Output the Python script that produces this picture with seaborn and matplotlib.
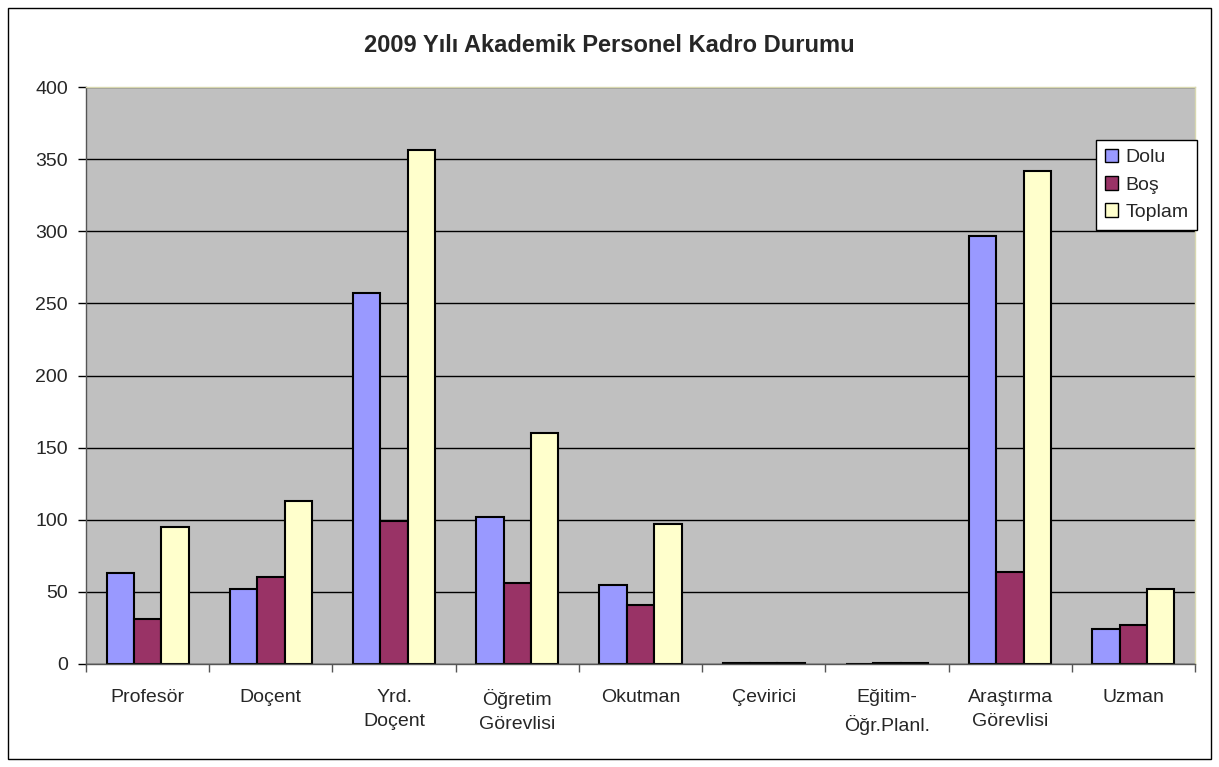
import matplotlib
matplotlib.use("Agg")
import matplotlib.pyplot as plt
import seaborn as sns
import pandas as pd
from matplotlib.patches import Patch, Rectangle

categories = ["Profesör", "Doçent", "Yrd.\nDoçent", "Öğretim\nGörevlisi", "Okutman",
              "Çevirici", "Eğitim-\nÖğr.Planl.", "Araştırma\nGörevlisi", "Uzman"]
dolu = [63, 52, 257, 102, 55, 1, 0, 297, 24]
bos = [31, 60, 99, 56, 41, 1, 1, 64, 27]
toplam = [95, 113, 356, 160, 97, 1, 1, 342, 52]
series = ["Dolu", "Boş", "Toplam"]
colors = ["#9999FF", "#993366", "#FFFFCC"]

rows = []
for i, c in enumerate(categories):
    for s, vals in zip(series, [dolu, bos, toplam]):
        rows.append({"cat": c, "series": s, "value": vals[i]})
df = pd.DataFrame(rows)

sns.set_theme(style="white")
plt.rcParams["font.family"] = ["Liberation Sans", "DejaVu Sans"]

fig = plt.figure(figsize=(12.19, 7.67), dpi=100)
ax = fig.add_axes([86/1219, 1-664/767, (1195-86)/1219, (664-87)/767])

sns.barplot(data=df, x="cat", y="value", hue="series", palette=colors, ax=ax,
            width=0.667, gap=0, edgecolor="black", linewidth=1.5, legend=False,
            saturation=1, errorbar=None)

ax.set_facecolor("#C0C0C0")
ax.set_ylim(0, 400)
ax.set_xlim(-0.5, len(categories) - 0.5)
ax.set_yticks(range(0, 401, 50))
ax.yaxis.grid(True, color="black", linewidth=1)
ax.set_axisbelow(True)
ax.set_xlabel("")
ax.set_ylabel("")
ax.tick_params(axis="y", labelsize=14, length=6, width=1, color="black", left=True,
               direction="out", pad=7)
ax.set_xticks(range(len(categories)))
ax.set_xticklabels(categories, fontsize=14, linespacing=1.55)
ax.tick_params(axis="x", length=0, pad=18)
# category boundary ticks
ax.set_xticks([i - 0.5 for i in range(len(categories) + 1)], minor=True)
ax.tick_params(axis="x", which="minor", length=6, width=1, color="#555555", bottom=True,
               direction="out")

for side in ["left", "bottom"]:
    ax.spines[side].set_color("#555555")
    ax.spines[side].set_linewidth(1)
for side in ["top", "right"]:
    ax.spines[side].set_color("#D8D8B0")
    ax.spines[side].set_linewidth(1)

fig.text(0.5, 1-45/767, "2009 Yılı Akademik Personel Kadro Durumu", ha="center", va="center",
         fontsize=17, fontweight="bold")

handles = [Patch(facecolor=c, edgecolor="black", linewidth=1) for c in colors]
leg = fig.legend(handles, series, loc="upper right", bbox_to_anchor=(1197/1219, 1-140/767),
                 frameon=True, fontsize=14, handlelength=0.7, handleheight=0.7,
                 handletextpad=0.35, labelspacing=0.5, borderpad=0.45, fancybox=False,
                 borderaxespad=0, framealpha=1)
leg.get_frame().set_edgecolor("black")
leg.get_frame().set_linewidth(1)
leg.get_frame().set_facecolor("white")

fig.patches.append(Rectangle((8/1219, 8/767), 1203/1219, 751/767, transform=fig.transFigure,
                             fill=False, edgecolor="black", linewidth=1))

fig.savefig("out.png", dpi=100)
